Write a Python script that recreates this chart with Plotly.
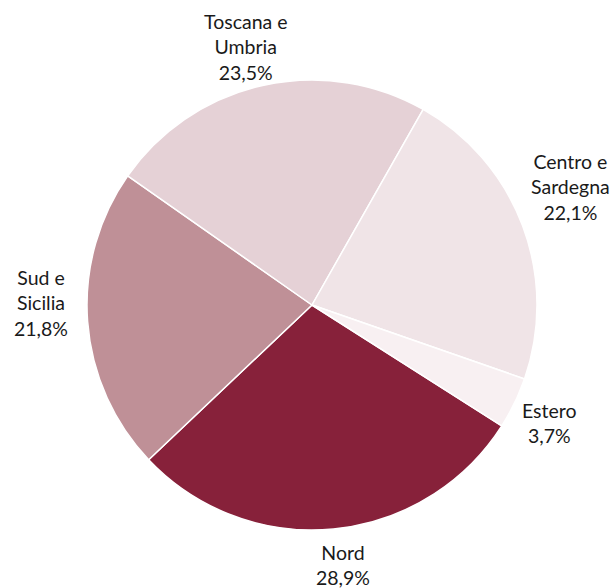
import plotly.graph_objects as go

# Share of sales by area (%)
areas = ["Nord", "Sud e Sicilia", "Toscana e Umbria", "Centro e Sardegna", "Estero"]
shares = [28.9, 21.8, 23.5, 22.1, 3.7]
label_text = ["Nord", "Sud e<br>Sicilia", "Toscana e<br>Umbria", "Centro e<br>Sardegna", "Estero"]

colors = ["#87213a", "#bf9097", "#e5d1d6", "#f0e4e7", "#f8f0f2"]

# label centres in pixels (x from left, y from top)
label_px = [(343, 565), (41, 303), (246, 47), (570, 187), (549, 423)]

W, H = 615, 588
cx, cy, r = 312, 305, 225

fig = go.Figure(
    go.Pie(
        labels=areas,
        values=shares,
        sort=False,
        direction="clockwise",
        rotation=122.5,
        marker=dict(colors=colors, line=dict(color="white", width=1.5)),
        textinfo="none",
        hoverinfo="label+percent",
        showlegend=False,
        domain=dict(x=[(cx - r) / W, (cx + r) / W],
                    y=[(H - cy - r) / H, (H - cy + r) / H]),
    )
)

for txt, val, (px, py) in zip(label_text, shares, label_px):
    fig.add_annotation(
        x=px / W, y=1 - py / H, xref="paper", yref="paper",
        text=f"{txt}<br>{val:.1f}%".replace(".", ","),
        showarrow=False, xanchor="center", yanchor="middle", align="center",
        font=dict(family="Lato", size=19.5, color="#1a1a1a"),
    )

fig.update_layout(
    width=W, height=H,
    margin=dict(l=0, r=0, t=0, b=0),
    paper_bgcolor="white", plot_bgcolor="white",
)

fig.write_html("out.html")
